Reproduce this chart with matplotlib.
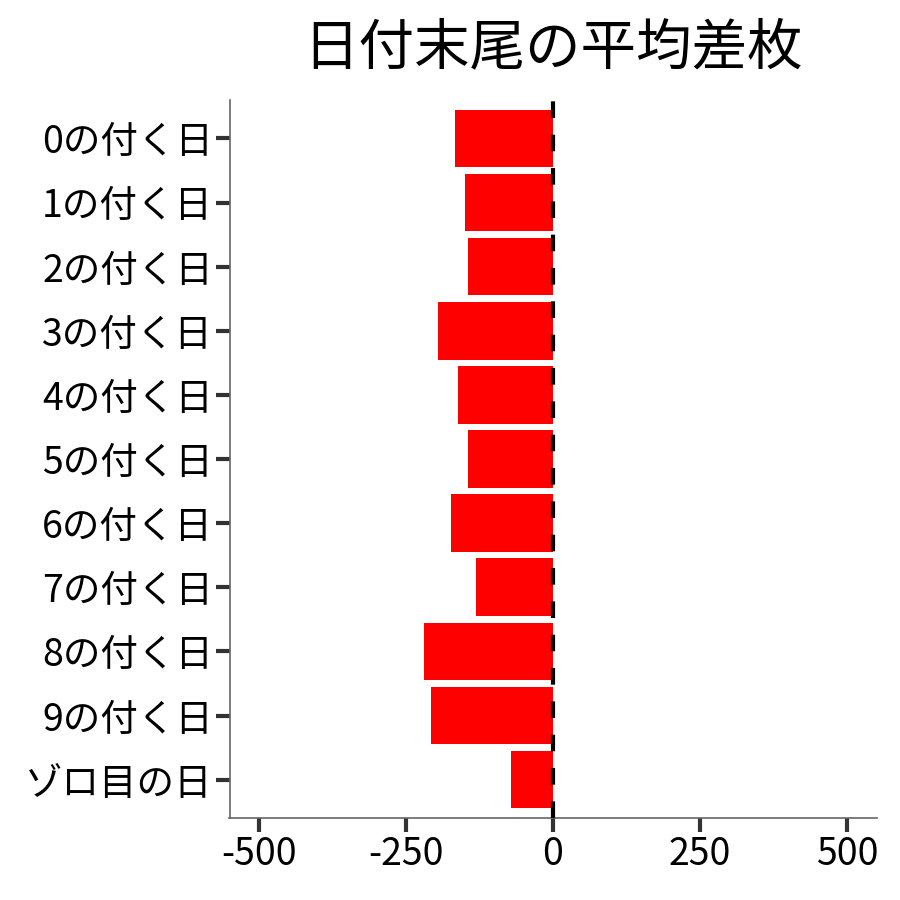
import matplotlib
matplotlib.use("Agg")
import matplotlib.pyplot as plt

plt.rcParams['font.family'] = ['Noto Sans CJK JP', 'DejaVu Sans']

# categories, top to bottom
labels = ["0の付く日", "1の付く日", "2の付く日", "3の付く日", "4の付く日",
          "5の付く日", "6の付く日", "7の付く日", "8の付く日", "9の付く日",
          "ゾロ目の日"]
# average difference per day ending
values = [-167, -150, -144, -196, -162, -144, -173, -131, -219, -207, -72]

fig = plt.figure(figsize=(9, 9), dpi=100)
ax = fig.add_axes([0.255, 0.091, 0.719, 0.798])

pos = list(range(len(labels)))[::-1]
ax.barh(pos, values, height=0.9, color="#ff0000", zorder=2)
ax.axvline(0, color="black", linestyle=(0, (4, 4)), linewidth=3, zorder=3)

ax.set_xlim(-550, 550)
ax.set_ylim(-0.6, len(labels) - 0.4)
ax.set_xticks([-500, -250, 0, 250, 500])
ax.set_xticklabels(["-500", "-250", "0", "250", "500"])
ax.set_yticks(pos)
ax.set_yticklabels(labels)

for side in ["top", "right"]:
    ax.spines[side].set_visible(False)
for side in ["left", "bottom"]:
    ax.spines[side].set_color("#666666")
    ax.spines[side].set_linewidth(1.2)
ax.tick_params(axis="both", colors="#333333", width=3, length=10,
               labelsize=27, labelcolor="black")
ax.tick_params(axis="y", pad=2)
ax.tick_params(axis="x", pad=2)

ax.set_title("日付末尾の平均差枚", fontsize=40, pad=26)

fig.savefig("out.png", dpi=100)
